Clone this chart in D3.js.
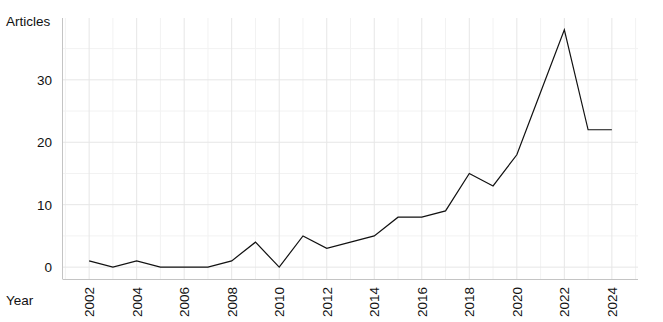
<!DOCTYPE html>
<html><head><meta charset="utf-8">
<script src="https://cdn.jsdelivr.net/npm/d3@7"></script>
<style>body{margin:0;background:#fff}text{font-family:"Liberation Sans",Arial,Helvetica,sans-serif}</style>
</head><body><svg id="c" width="663" height="322"></svg>
<script>
const years=[2002,2003,2004,2005,2006,2007,2008,2009,2010,2011,2012,2013,2014,2015,2016,2017,2018,2019,2020,2021,2022,2023,2024];
const articles=[1,0,1,0,0,0,1,4,0,5,3,4,5,8,8,9,15,13,18,28,38,22,22];
const yTicks=[0,10,20,30];
const yMinor=[5,15,25,35];
const xTicks=[2002,2004,2006,2008,2010,2012,2014,2016,2018,2020,2022,2024];
const xMinor=[2001,2003,2005,2007,2009,2011,2013,2015,2017,2019,2021,2023,2025];

const svg=d3.select("#c");
const L=63,R=638,T=18,B=279;
const FS=13.5;
const x=d3.scaleLinear().domain([2000.9,2025.1]).range([L,R]);
const y=d3.scaleLinear().domain([-1.9,39.9]).range([B,T]);
const g=svg.append("g");
g.selectAll(".ymn").data(yMinor).join("line").attr("x1",L).attr("x2",R).attr("y1",d=>y(d)).attr("y2",d=>y(d)).attr("stroke","#f2f2f2");
g.selectAll(".xmn").data(xMinor).join("line").attr("x1",d=>x(d)).attr("x2",d=>x(d)).attr("y1",T).attr("y2",B).attr("stroke","#f2f2f2");
g.selectAll(".ymj").data(yTicks).join("line").attr("x1",L).attr("x2",R).attr("y1",d=>y(d)).attr("y2",d=>y(d)).attr("stroke","#e6e6e6");
g.selectAll(".xmj").data(xTicks).join("line").attr("x1",d=>x(d)).attr("x2",d=>x(d)).attr("y1",T).attr("y2",B).attr("stroke","#e6e6e6");
svg.append("line").attr("x1",L-0.5).attr("x2",L-0.5).attr("y1",T).attr("y2",B).attr("stroke","#c4c4c4");
svg.append("line").attr("x1",L-0.5).attr("x2",R).attr("y1",B+0.5).attr("y2",B+0.5).attr("stroke","#c4c4c4");
const line=d3.line().x((d,i)=>x(years[i])).y(d=>y(d));
svg.append("path").datum(articles).attr("d",line).attr("fill","none").attr("stroke","#111").attr("stroke-width",1.2);
svg.selectAll(".yl").data(yTicks).join("text").attr("x",52).attr("y",d=>y(d)).attr("dy","0.36em").attr("text-anchor","end").attr("font-size",FS).attr("fill","#111").text(d=>d);
svg.selectAll(".xl").data(xTicks).join("text").attr("transform",d=>`translate(${x(d)},${287}) rotate(-90)`).attr("dy","0.36em").attr("text-anchor","end").attr("font-size",FS).attr("fill","#111").text(d=>d);
svg.append("text").attr("x",6).attr("y",25.5).attr("font-size",FS).attr("fill","#111").text("Articles");
svg.append("text").attr("x",6).attr("y",305).attr("font-size",FS).attr("fill","#111").text("Year");
</script></body></html>
